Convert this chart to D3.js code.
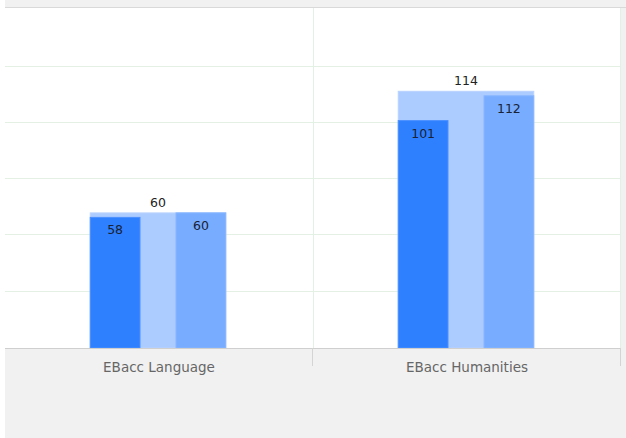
<!DOCTYPE html>
<html>
<head>
<meta charset="utf-8">
<script src="https://cdn.jsdelivr.net/npm/d3@7"></script>
<style>
  html, body { margin: 0; padding: 0; background: #fff; }
  svg { display: block; }
</style>
</head>
<body>
<div id="chart"></div>
<script>
// data
var categories = ['EBacc Language', 'EBacc Humanities']
var totals = [60, 114]        // wide light bar, label above
var seriesA = [58, 101]       // dark blue, left
var seriesB = [60, 112]       // mid blue, right
var yTicks = [0, 25, 50, 75, 100, 125, 150]

var width = 626,
  height = 438

var plot = { left: 5, right: 621, top: 8, bottom: 348 }

var svg = d3
  .select('#chart')
  .append('svg')
  .attr('width', width)
  .attr('height', height)

// grey chart background
svg
  .append('rect')
  .attr('x', 5)
  .attr('y', 0)
  .attr('width', width - 5)
  .attr('height', height)
  .attr('fill', '#f1f1f1')

svg
  .append('line')
  .attr('x1', 5)
  .attr('x2', width)
  .attr('y1', 7.5)
  .attr('y2', 7.5)
  .attr('stroke', '#d9d9d9')

svg
  .append('rect')
  .attr('x', plot.left)
  .attr('y', plot.top)
  .attr('width', plot.right - plot.left)
  .attr('height', plot.bottom - plot.top)
  .attr('fill', '#fff')

var x = d3
  .scaleBand()
  .domain(categories)
  .range([plot.left, plot.right])
  .paddingInner(0)
  .paddingOuter(0)

var groupW = x.bandwidth() * 0.44

var xs = d3
  .scaleBand()
  .domain(['a', 'b'])
  .range([0, groupW])
  .paddingInner(0.42)
  .paddingOuter(0)

var y = d3
  .scaleLinear()
  .domain([0, 151])
  .range([plot.bottom, plot.top])

// gridlines
svg
  .append('g')
  .selectAll('line')
  .data(yTicks.slice(1, -1))
  .enter()
  .append('line')
  .attr('x1', plot.left)
  .attr('x2', plot.right)
  .attr('y1', d => Math.round(y(d)) - 0.5)
  .attr('y2', d => Math.round(y(d)) - 0.5)
  .attr('stroke', '#e5f0e5')

// vertical category separators
svg
  .append('g')
  .selectAll('line')
  .data(categories.slice(1))
  .enter()
  .append('line')
  .attr('x1', d => Math.round(x(d)) + 0.5)
  .attr('x2', d => Math.round(x(d)) + 0.5)
  .attr('y1', plot.top)
  .attr('y2', plot.bottom)
  .attr('stroke', '#e5f0e5')

svg
  .append('line')
  .attr('x1', plot.right - 0.5)
  .attr('x2', plot.right - 0.5)
  .attr('y1', plot.top)
  .attr('y2', plot.bottom)
  .attr('stroke', '#e5f0e5')

var groups = svg
  .append('g')
  .selectAll('g')
  .data(categories)
  .enter()
  .append('g')
  .attr('transform', d => 'translate(' + (x(d) + (x.bandwidth() - groupW) / 2 - 1) + ',0)')

groups
  .append('rect')
  .attr('x', 0)
  .attr('width', groupW)
  .attr('y', (d, i) => y(totals[i]))
  .attr('height', (d, i) => plot.bottom - y(totals[i]))
  .attr('fill', '#accbff')
  .attr('stroke', '#b8d3ff')

groups
  .append('rect')
  .attr('x', xs('a'))
  .attr('width', xs.bandwidth())
  .attr('y', (d, i) => y(seriesA[i]))
  .attr('height', (d, i) => plot.bottom - y(seriesA[i]))
  .attr('fill', '#2e80ff')
  .attr('stroke', '#4a90ff')

groups
  .append('rect')
  .attr('x', xs('b'))
  .attr('width', xs.bandwidth())
  .attr('y', (d, i) => y(seriesB[i]))
  .attr('height', (d, i) => plot.bottom - y(seriesB[i]))
  .attr('fill', '#77acff')
  .attr('stroke', '#88b6ff')

var labelFont = '"DejaVu Sans", Verdana, sans-serif'

groups
  .append('text')
  .attr('x', groupW / 2)
  .attr('y', (d, i) => y(totals[i]) - 6)
  .attr('text-anchor', 'middle')
  .style('font', '12.5px ' + labelFont)
  .attr('fill', '#222')
  .text((d, i) => totals[i])

groups
  .append('text')
  .attr('x', xs('a') + xs.bandwidth() / 2)
  .attr('y', (d, i) => y(seriesA[i]) + 17)
  .attr('text-anchor', 'middle')
  .style('font', '12.5px ' + labelFont)
  .attr('fill', '#1a2233')
  .text((d, i) => seriesA[i])

groups
  .append('text')
  .attr('x', xs('b') + xs.bandwidth() / 2)
  .attr('y', (d, i) => y(seriesB[i]) + 17)
  .attr('text-anchor', 'middle')
  .style('font', '12.5px ' + labelFont)
  .attr('fill', '#1a2233')
  .text((d, i) => seriesB[i])

// x axis
var xAxis = svg
  .append('g')
  .attr('transform', 'translate(0,' + plot.bottom + ')')
  .call(d3.axisBottom(x).tickSize(0).tickPadding(14))

xAxis.select('.domain').attr('stroke', '#cfcfcf').attr('d', 'M' + plot.left + ',0.5H' + plot.right)
xAxis
  .selectAll('text')
  .style('font', '13.5px ' + labelFont)
  .attr('fill', '#666')

// axis separators between categories
xAxis
  .append('g')
  .selectAll('line')
  .data(categories.slice(1).map(c => x(c)).concat([plot.right]))
  .enter()
  .append('line')
  .attr('x1', d => Math.round(d) - 0.5)
  .attr('x2', d => Math.round(d) - 0.5)
  .attr('y1', 0)
  .attr('y2', 18)
  .attr('stroke', '#d4d4d4')
</script>
</body>
</html>
